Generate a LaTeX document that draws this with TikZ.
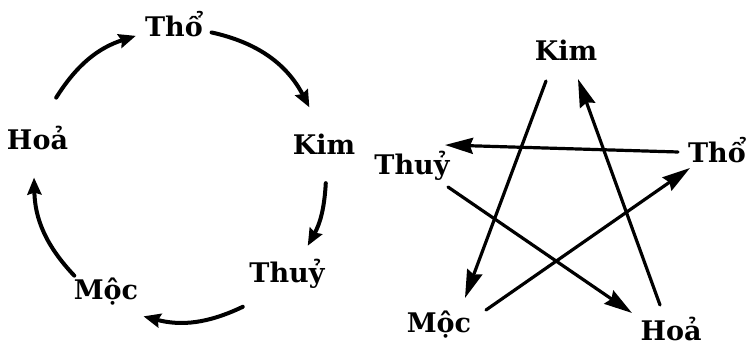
\documentclass[tikz,border=0pt]{standalone}
\usepackage{fontspec}
\setmainfont{DejaVu Serif}
\usetikzlibrary{arrows.meta,calc}
\begin{document}
\begin{tikzpicture}[x=1pt,y=1pt,
  lbl/.style={font=\fontsize{27}{29}\selectfont\bfseries, inner sep=0pt, anchor=base},
  cyc/.style={line width=4pt, line cap=round, -{Stealth[length=17pt,width=14pt,inset=2pt]}},
  star/.style={line width=3.2pt, line cap=round, -{Stealth[length=28pt,width=16pt,inset=3pt]}}]
\useasboundingbox (0,0) rectangle (750,347);
% ---- left: generating cycle ----
\node[lbl] (tho1) at (174,310) {Thổ};
\node[lbl] (kim1) at (324,192) {Kim};
\node[lbl] (thuy1) at (287,64) {Thuỷ};
\node[lbl] (moc1) at (106,47) {Mộc};
\node[lbl] (hoa1) at (37.5,197) {Hoả};
\coordinate (c) at (180,172);
\coordinate (p1) at ($(c)+(148:146)$);
\coordinate (q1) at ($(c)+(107.6:146)$);
\coordinate (p2) at ($(c)+(77.5:146)$);
\coordinate (q2) at ($(c)+(27.6:146)$);
\coordinate (p3) at ($(c)+(-3.2:146)$);
\coordinate (q3) at ($(c)+(-29:146)$);
\coordinate (p4) at ($(c)+(-64.5:146)$);
\coordinate (q4) at ($(c)+(-104.5:146)$);
\coordinate (p5) at ($(c)+(223.6:146)$);
\coordinate (q5) at ($(c)+(181:146)$);
\draw[cyc] (p1) to[bend left=20] (q1);
\draw[cyc] (p2) to[bend left=25] (q2);
\draw[cyc] (p3) to[bend left=13] (q3);
\draw[cyc] (p4) to[bend left=20] (q4);
\draw[cyc] (p5) to[bend left=21] (q5);
% ---- right: overcoming star ----
\node[lbl] (kim2) at (566,286) {Kim};
\node[lbl] (tho2) at (717,184) {Thổ};
\node[lbl] (thuy2) at (412,172) {Thuỷ};
\node[lbl] (moc2) at (439,14) {Mộc};
\node[lbl] (hoa2) at (671,6) {Hoả};
\coordinate (s1) at (546,266); \coordinate (e1) at (465,49);
\coordinate (s2) at (660,42);  \coordinate (e2) at (578,268);
\coordinate (s3) at (678,195); \coordinate (e3) at (445,202);
\coordinate (s4) at (448,160); \coordinate (e4) at (632,34);
\coordinate (s5) at (486,37);  \coordinate (e5) at (690,179);
\draw[star] (s1) -- (e1);
\draw[star] (s2) -- (e2);
\draw[star] (s3) -- (e3);
\draw[star] (s4) -- (e4);
\draw[star] (s5) -- (e5);
\end{tikzpicture}
\end{document}
